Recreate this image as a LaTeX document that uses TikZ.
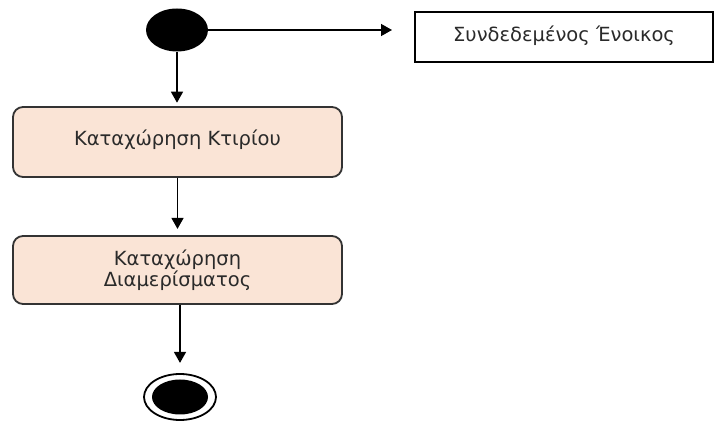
\documentclass[tikz,border=0pt]{standalone}
\usepackage{fontspec}
\setmainfont{DejaVu Sans}
\usetikzlibrary{arrows.meta,shapes.geometric}
\definecolor{actfill}{HTML}{FAE4D6}
\definecolor{actline}{HTML}{333333}
\definecolor{txt}{HTML}{2A2A2A}
\newcommand\actfont{\fontsize{19.5}{21}\selectfont}
% two centred lines on a fixed 21pt baseline pitch
\newcommand\twolines[2]{\vbox{\baselineskip=21pt\lineskiplimit=-100pt\relax
  \hbox to 220pt{\hfil#1\hfil}\hbox to 220pt{\hfil#2\hfil}}}
\begin{document}
\begin{tikzpicture}[x=1pt,y=-1pt,
  every node/.style={inner sep=0pt},
  flow/.style={draw=black,line width=1.5pt,-{Triangle[width=12pt,length=11pt]}},
  activity/.style={draw=actline,fill=actfill,line width=1.8pt,rounded corners=10pt,
    minimum width=329pt,text=txt,font=\actfont},
  objbox/.style={draw=black,line width=1.8pt,minimum width=298pt,minimum height=50pt,
    text=txt,font=\actfont}]
  \useasboundingbox (0,0) rectangle (721,430);
  % initial state
  \node[ellipse,fill=black,minimum width=62pt,minimum height=43pt] (start) at (177,30) {};
  % object
  \node[objbox] (obj) at (564,37) {\raisebox{6pt}{Συνδεδεμένος Ένοικος}};
  \coordinate (objin) at (392,30);
  % activities
  \node[activity,minimum height=70pt] (a1) at (177.5,142) {\raisebox{8pt}{Καταχώρηση Κτιρίου}};
  \node[activity,minimum height=68pt] (a2) at (177.5,270) {\twolines{Καταχώρηση}{Διαμερίσματος}};
  % final state
  \node[ellipse,draw=black,line width=1.8pt,minimum width=72pt,minimum height=46pt] (end) at (180,397) {};
  \node[ellipse,fill=black,minimum width=56pt,minimum height=35pt] at (end) {};
  % flows
  \draw[flow] (start.east) -- (objin);
  \draw[flow] (start.south) -- ++(0,51);
  \draw[flow] (a1.south) -- ++(0,51);
  \draw[flow] (a2.south -| end.north) -- ++(0,58);
\end{tikzpicture}
\end{document}
